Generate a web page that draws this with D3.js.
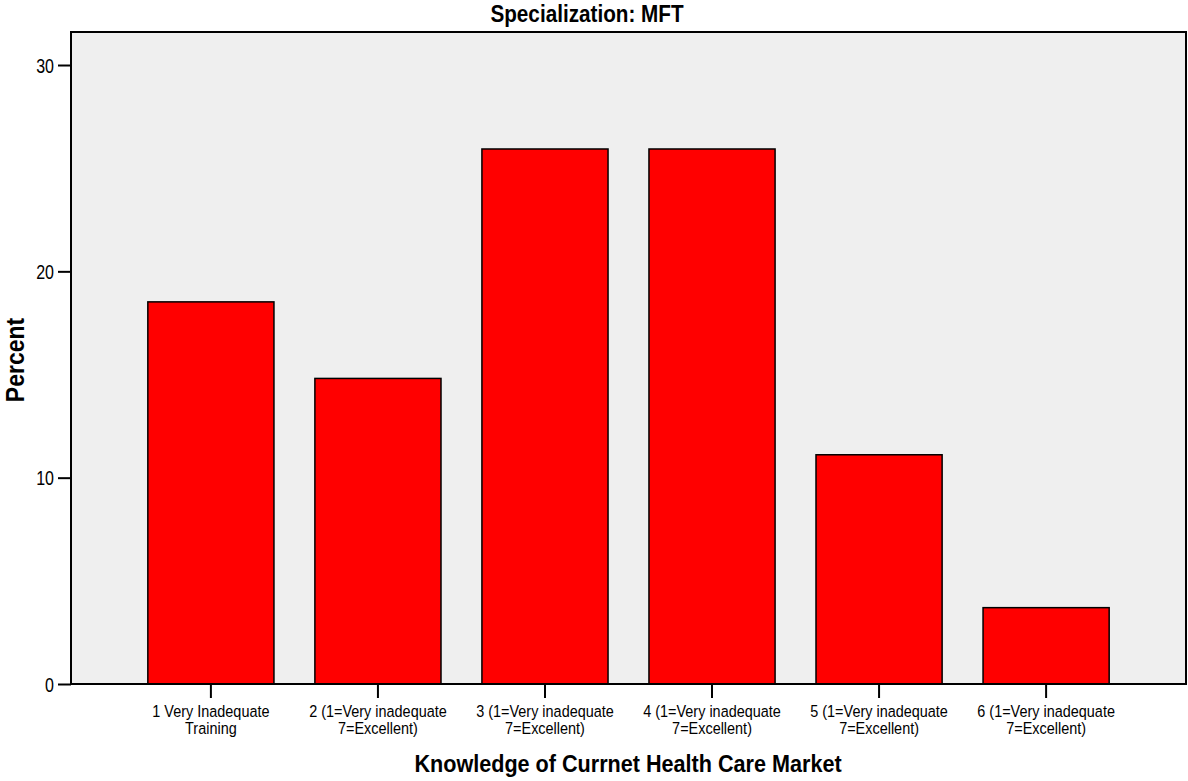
<!DOCTYPE html>
<html>
<head>
<meta charset="utf-8">
<script src="https://cdn.jsdelivr.net/npm/d3@7"></script>
<style>
  body { margin: 0; background: #fff; }
  svg { display: block; font-family: 'Liberation Sans', Arial, sans-serif; }
</style>
</head>
<body>
<script>
// category labels (two lines each)
let categories = [
  '1 Very Inadequate|Training',
  '2 (1=Very inadequate|7=Excellent)',
  '3 (1=Very inadequate|7=Excellent)',
  '4 (1=Very inadequate|7=Excellent)',
  '5 (1=Very inadequate|7=Excellent)',
  '6 (1=Very inadequate|7=Excellent)'
];
let percents = [18.52, 14.81, 25.93, 25.93, 11.11, 3.70];
let yTicks = [0, 10, 20, 30];

let chartTitle = 'Specialization: MFT';
let xTitle = 'Knowledge of Currnet Health Care Market';
let yTitle = 'Percent';

let width = 1188;
let height = 781;
let margin = { left: 71, right: 2, top: 32, bottom: 97 };
let plotW = width - margin.left - margin.right;
let plotH = height - margin.top - margin.bottom;

let svg = d3.select('body')
  .append('svg')
  .attr('width', width)
  .attr('height', height);

//scales
let x = d3.scaleBand()
  .domain(categories)
  .range([0, plotW])
  .paddingInner(0.245)
  .paddingOuter(0.46);

let y = d3.scaleLinear()
  .domain([0, 31.6])
  .range([plotH, 0]);

let chartGroup = svg.append('g')
  .attr('transform', 'translate(' + margin.left + ',' + margin.top + ')');

// plot background
chartGroup.append('rect')
  .attr('width', plotW)
  .attr('height', plotH)
  .attr('fill', '#efefef');

chartGroup.selectAll('.bar')
  .data(percents)
  .enter()
  .append('rect')
  .attr('class', 'bar')
  .attr('x', function (d, i) { return x(categories[i]); })
  .attr('y', function (d) { return y(d); })
  .attr('width', x.bandwidth())
  .attr('height', function (d) { return plotH - y(d); })
  .attr('fill', '#ff0000')
  .attr('stroke', '#000')
  .attr('stroke-width', 1.5);

// frame
chartGroup.append('rect')
  .attr('width', plotW)
  .attr('height', plotH)
  .attr('fill', 'none')
  .attr('stroke', '#000')
  .attr('stroke-width', 2);

//axes
let yAxis = d3.axisLeft(y)
  .tickValues(yTicks)
  .tickSize(13)
  .tickFormat(d3.format('d'));

let xAxis = d3.axisBottom(x)
  .tickSize(14)
  .tickFormat('');

let yG = chartGroup.append('g')
  .call(yAxis);
yG.select('.domain').remove();
yG.selectAll('line').attr('stroke', '#000').attr('stroke-width', 2);
// labels look condensed in the original, so squeeze them a bit
yG.selectAll('text')
  .attr('x', 0)
  .attr('dy', '0.36em')
  .attr('transform', 'translate(-17,0) scale(0.8,1)')
  .attr('font-size', 20)
  .attr('font-family', "'Liberation Sans', Arial, sans-serif")
  .attr('fill', '#000');

let xG = chartGroup.append('g')
  .attr('transform', 'translate(0,' + plotH + ')')
  .call(xAxis);
xG.select('.domain').remove();
xG.selectAll('line').attr('stroke', '#000').attr('stroke-width', 2);

// two line tick labels
xG.selectAll('.tick').each(function (d) {
  let lines = d.split('|');
  let t = d3.select(this).append('text')
    .attr('fill', '#000')
    .attr('font-size', 16.5)
    .attr('transform', 'scale(0.875,1)')
    .attr('font-family', "'Liberation Sans', Arial, sans-serif")
    .attr('text-anchor', 'middle');
  lines.forEach(function (l, k) {
    t.append('tspan')
      .attr('x', 0)
      .attr('y', 33 + k * 17.5)
      .text(l);
  });
});

// titles
svg.append('g')
  .attr('transform', 'translate(587,22)')
  .append('text')
  .attr('transform', 'scale(0.9,1)')
  .attr('text-anchor', 'middle')
  .attr('font-weight', 'bold')
  .attr('font-size', 23)
  .text(chartTitle);

svg.append('g')
  .attr('transform', 'translate(628,772)')
  .append('text')
  .attr('transform', 'scale(0.9,1)')
  .attr('text-anchor', 'middle')
  .attr('font-weight', 'bold')
  .attr('font-size', 24)
  .text(xTitle);

svg.append('g')
  .attr('transform', 'translate(24,360) rotate(-90)')
  .append('text')
  .attr('transform', 'scale(0.92,1)')
  .attr('text-anchor', 'middle')
  .attr('font-weight', 'bold')
  .attr('font-size', 25)
  .text(yTitle);
</script>
</body>
</html>
